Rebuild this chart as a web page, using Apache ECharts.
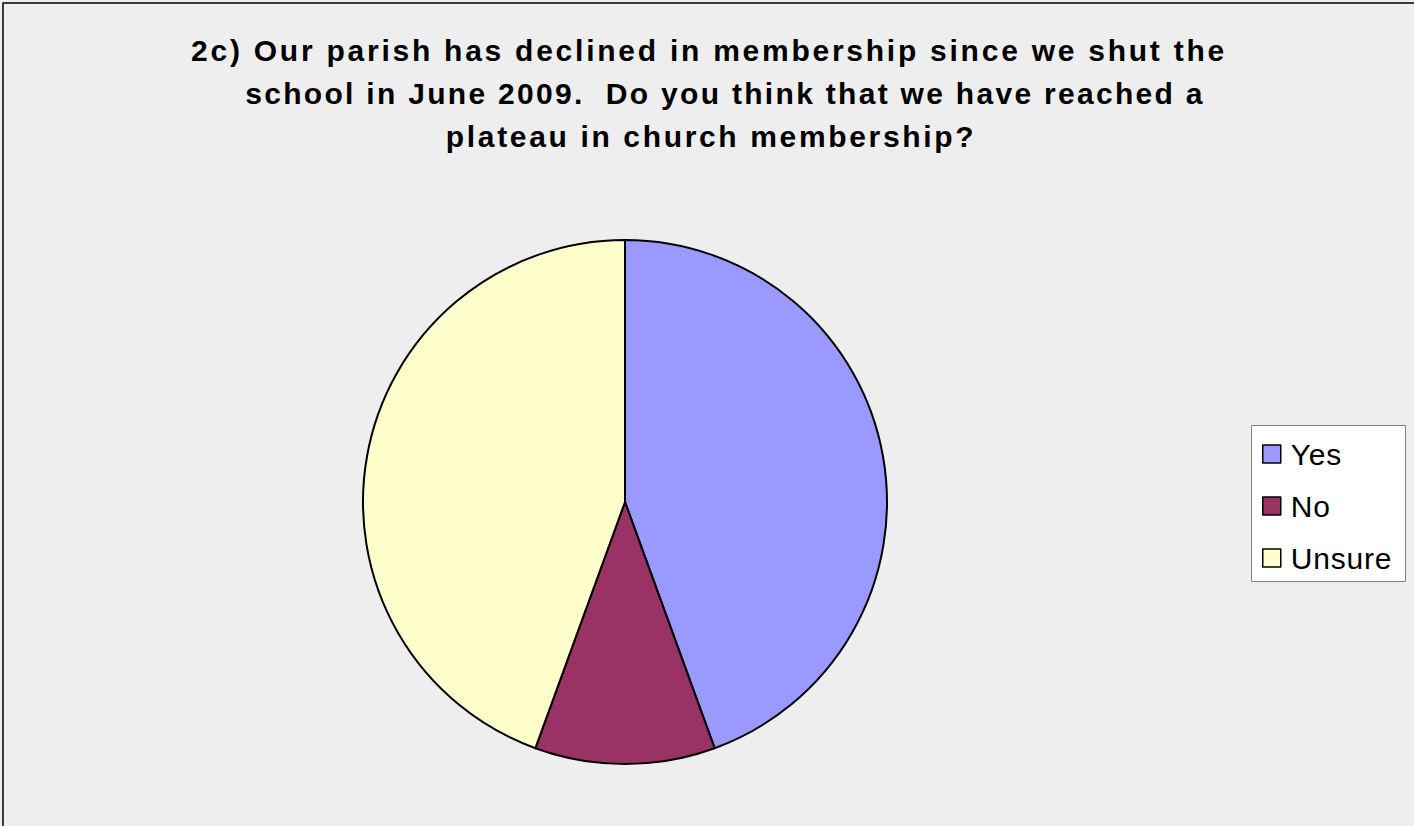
<!DOCTYPE html>
<html>
<head>
<meta charset="utf-8">
<script src="https://cdn.jsdelivr.net/npm/echarts@6/dist/echarts.min.js"></script>
<style>
html,body{margin:0;padding:0;background:#eeeeee;}
#chart{width:1414px;height:826px;}
</style>
</head>
<body>
<div id="chart"></div>
<script>
var titleLines = [
  "2c) Our parish has declined in membership since we shut the",
  "school in June 2009.  Do you think that we have reached a",
  "plateau in church membership?"
];
var categories = ["Yes", "No", "Unsure"];
var values = [4, 1, 4];
var colors = ["#9999FF", "#993366", "#FFFFCC"];

var chart = echarts.init(document.getElementById('chart'), null, {renderer: 'svg'});
var lineCenters = [709, 725, 711];
var lineTops = [35, 78, 121];
var lineSpacing = [2.75, 2.3, 2.65];
var titles = titleLines.map(function (t, i) {
  return {
    text: t,
    left: lineCenters[i],
    top: lineTops[i],
    textAlign: 'center',
    padding: 0,
    textStyle: {
      fontFamily: 'Liberation Sans',
      fontWeight: 'bold',
      fontSize: 30,
      lineHeight: 30,
      color: '#000'
    }
  };
});

var option = {
  animation: false,
  backgroundColor: '#eeeeee',
  title: titles,
  graphic: [
    {
      type: 'rect',
      z: -10,
      shape: {x: 3, y: 3, width: 2000, height: 2000},
      style: {fill: 'none', stroke: '#000', lineWidth: 1.5}
    },
    {
      type: 'rect',
      z: -5,
      shape: {x: 1251.5, y: 425.5, width: 154, height: 156},
      style: {fill: '#ffffff', stroke: '#808080', lineWidth: 1}
    }
  ],
  legend: {
    orient: 'vertical',
    left: 1262,
    top: 439,
    padding: 0,
    itemGap: 22,
    itemWidth: 18,
    itemHeight: 18,
    icon: 'rect',
    selectedMode: false,
    data: categories,
    itemStyle: {borderColor: '#000', borderWidth: 1.5},
    textStyle: {
      fontFamily: 'Liberation Sans',
      fontSize: 30,
      lineHeight: 30,
      color: '#000',
      padding: [0, 0, 0, 5]
    }
  },
  series: [{
    type: 'pie',
    center: [625, 502],
    radius: 262,
    startAngle: 90,
    clockwise: true,
    label: {show: false},
    labelLine: {show: false},
    emphasis: {disabled: true},
    itemStyle: {borderColor: '#000', borderWidth: 2},
    data: categories.map(function (c, i) {
      return {name: c, value: values[i], itemStyle: {color: colors[i]}};
    })
  }]
};
chart.setOption(option);

function spaceText() {
  var texts = document.querySelectorAll('#chart svg text');
  texts.forEach(function (el) {
    var content = (el.textContent || '').replace(/\u00a0/g, ' ');
    var idx = -1;
    for (var i = 0; i < titleLines.length; i++) {
      if (content.trim() === titleLines[i].trim()) { idx = i; }
    }
    if (idx >= 0) {
      el.style.letterSpacing = lineSpacing[idx] + 'px';
    } else {
      el.style.letterSpacing = '0.8px';
    }
  });
}
chart.on('finished', spaceText);
spaceText();
</script>
</body>
</html>
